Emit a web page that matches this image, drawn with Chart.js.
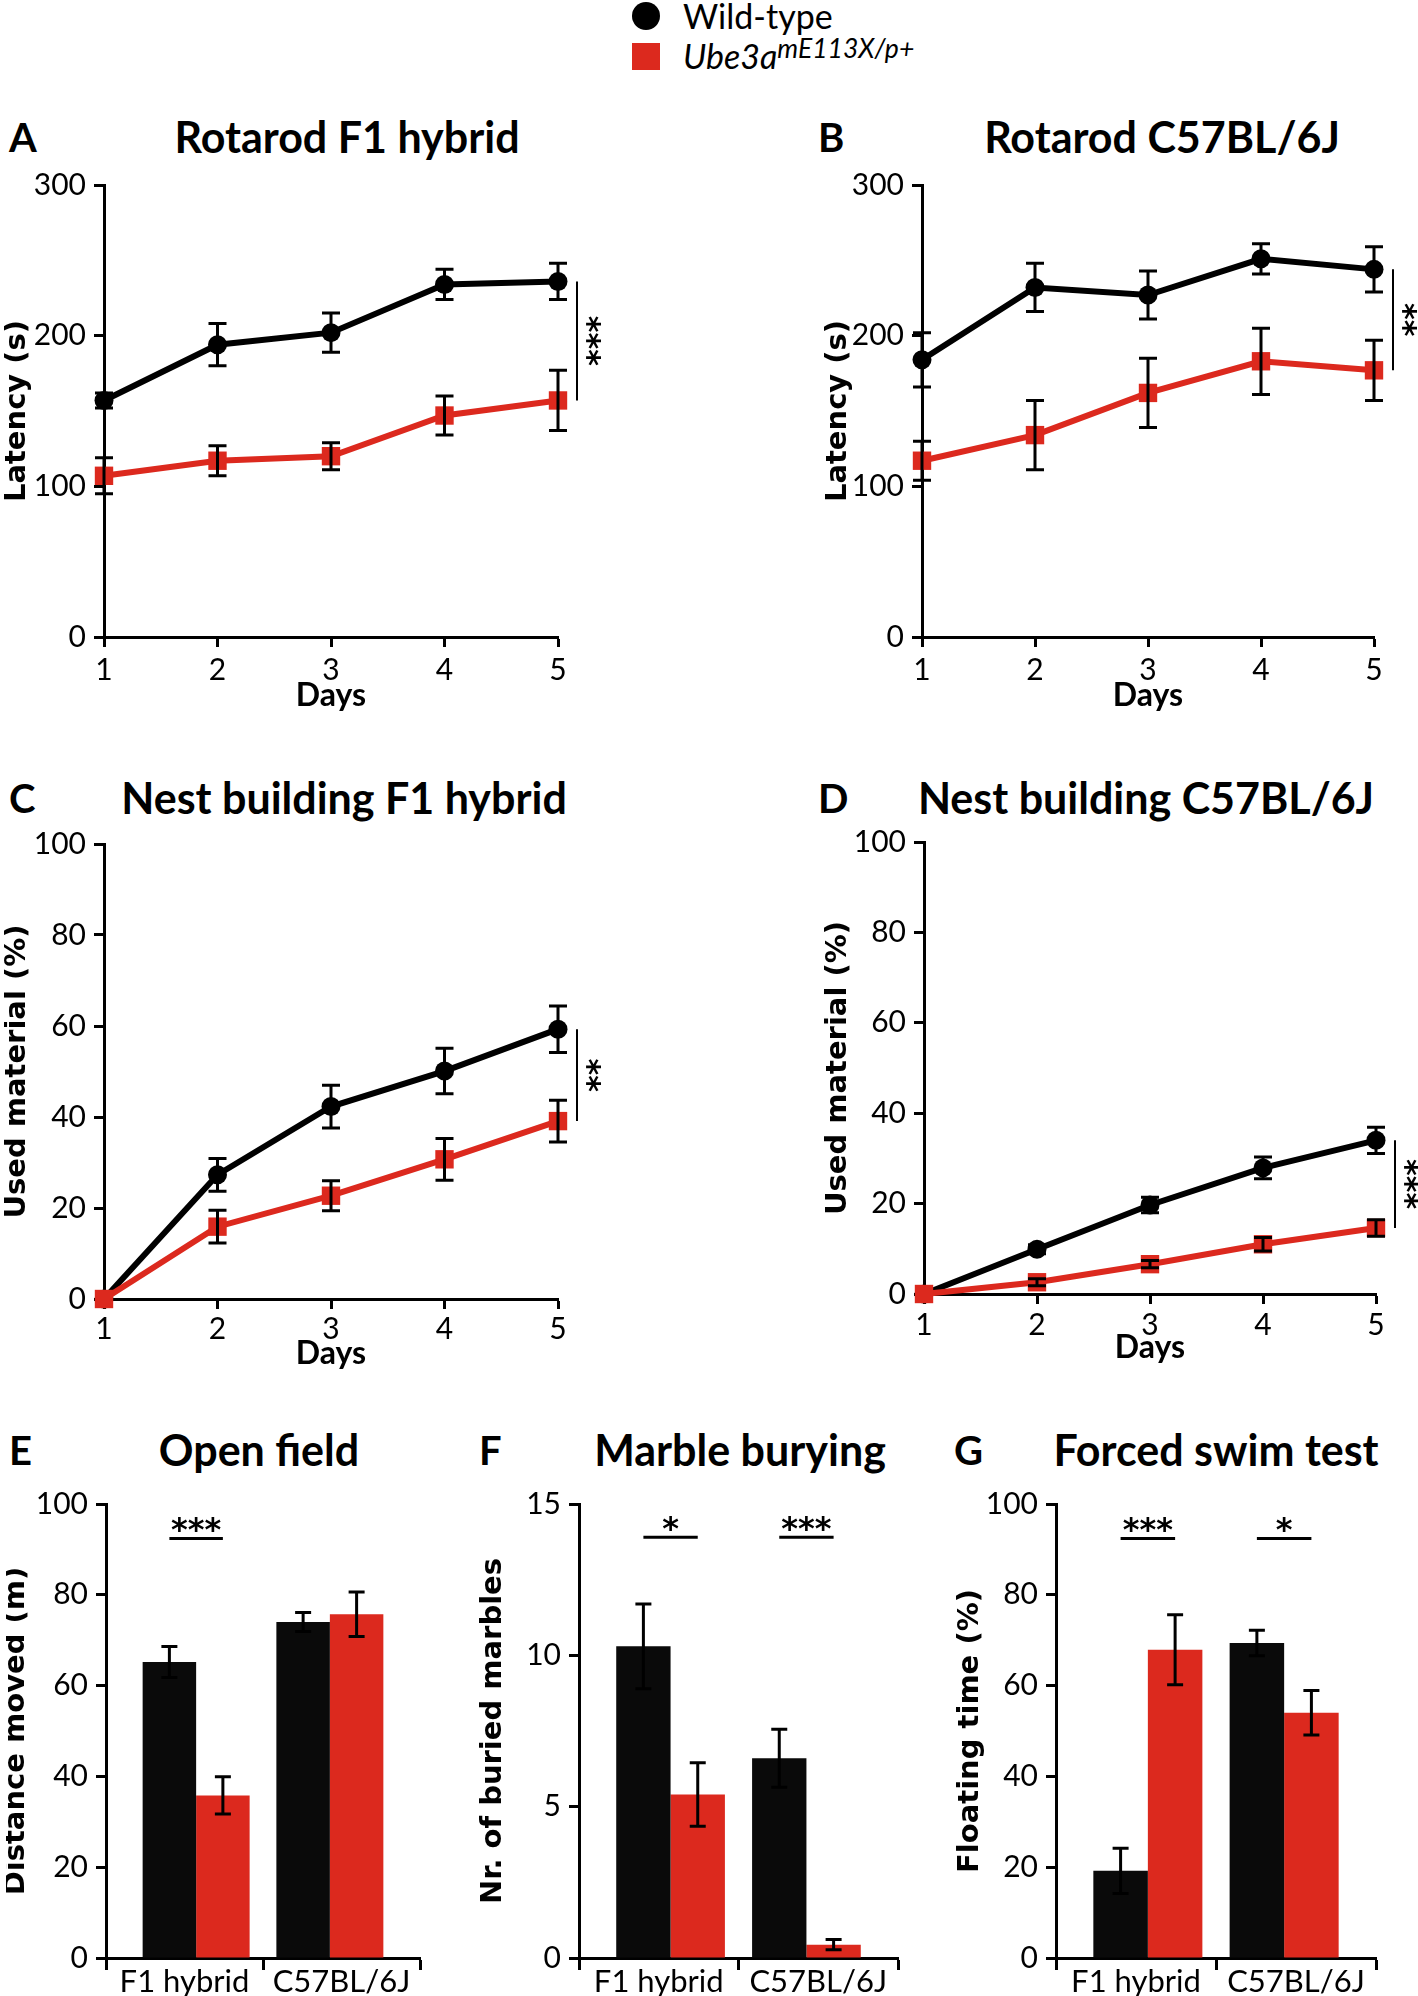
<!DOCTYPE html>
<html>
<head>
<meta charset="utf-8">
<script src="https://cdn.jsdelivr.net/npm/chart.js@4.4.1/dist/chart.umd.min.js"></script>
<style>
  body { margin: 0; background: #fff; }
  #fig { position: relative; width: 1418px; height: 1996px; overflow: hidden; font-family: Lato, sans-serif; color: #000; }
  #fig canvas { position: absolute; }
  .ttl { position: absolute; font-weight: bold; font-size: 43px; line-height: 1; transform: translate(-50%, -50%); white-space: nowrap; }
  .let { position: absolute; font-weight: bold; font-size: 40px; line-height: 1; transform: translateY(-50%); }
  .leg { position: absolute; font-size: 34px; line-height: 1; transform: translateY(-50%); white-space: nowrap; }
  .leg sup { font-size: 26.5px; line-height: 0; vertical-align: 11px; }
</style>
</head>
<body>
<div id="fig">
  <!-- legend -->
  <div style="position:absolute; left:632px; top:2px; width:28px; height:28px; border-radius:50%; background:#000;"></div>
  <div class="leg" style="left:683px; top:16px;">Wild-type</div>
  <div style="position:absolute; left:632px; top:43px; width:28px; height:27px; background:#dc291e;"></div>
  <div class="leg" style="left:683px; top:56px;"><i>Ube3a<sup>mE113X/p+</sup></i></div>

  <!-- panel letters and titles -->
  <div class="let" style="left:9px; top:137px;">A</div>
  <div class="ttl" style="left:347px; top:136px;">Rotarod F1 hybrid</div>
  <div class="let" style="left:818px; top:137px;">B</div>
  <div class="ttl" style="left:1162px; top:136px;">Rotarod C57BL/6J</div>
  <div class="let" style="left:9px; top:798px;">C</div>
  <div class="ttl" style="left:344px; top:797px;">Nest building F1 hybrid</div>
  <div class="let" style="left:818px; top:798px;">D</div>
  <div class="ttl" style="left:1146px; top:797px;">Nest building C57BL/6J</div>
  <div class="let" style="left:9px; top:1450px;">E</div>
  <div class="ttl" style="left:259px; top:1449px;">Open field</div>
  <div class="let" style="left:479px; top:1450px;">F</div>
  <div class="ttl" style="left:740px; top:1449px;">Marble burying</div>
  <div class="let" style="left:954px; top:1450px;">G</div>
  <div class="ttl" style="left:1216px; top:1449px;">Forced swim test</div>

  <canvas id="chartA"></canvas>
  <canvas id="chartB"></canvas>
  <canvas id="chartC"></canvas>
  <canvas id="chartD"></canvas>
  <canvas id="chartE"></canvas>
  <canvas id="chartF"></canvas>
  <canvas id="chartG"></canvas>
</div>

<script>
// ---- data (mean and SEM) ----
var days = ['1', '2', '3', '4', '5'];
var groups = ['F1 hybrid', 'C57BL/6J'];

// A: rotarod F1 hybrid, latency (s)
var rotF1Wt = [157, 194, 202, 234, 236];
var rotF1WtErr = [5, 14, 13, 10, 12];
var rotF1Mut = [107, 117, 120, 147, 157];
var rotF1MutErr = [12, 10, 9, 13, 20];

// B: rotarod C57BL/6J
var rotB6Wt = [184, 232, 227, 251, 244];
var rotB6WtErr = [18, 16, 16, 10, 15];
var rotB6Mut = [117, 134, 162, 183, 177];
var rotB6MutErr = [13, 23, 23, 22, 20];

// C: nest building F1 hybrid, used material (%)
var nestF1Wt = [0, 27.3, 42.3, 50.1, 59.3];
var nestF1WtErr = [0, 3.6, 4.7, 5, 5.1];
var nestF1Mut = [0, 15.9, 22.7, 30.7, 39.1];
var nestF1MutErr = [0, 3.6, 3.3, 4.6, 4.6];

// D: nest building C57BL/6J
var nestB6Wt = [0, 9.9, 19.7, 27.9, 34.0];
var nestB6WtErr = [0, 1, 1.7, 2.4, 2.9];
var nestB6Mut = [0, 2.6, 6.6, 11.0, 14.6];
var nestB6MutErr = [0, 0.8, 0.8, 1.5, 1.8];

// E: open field, distance moved (m)
var openWt = [65.2, 74.0];
var openWtErr = [3.4, 2.1];
var openMut = [35.8, 75.7];
var openMutErr = [4.1, 4.9];

// F: marble burying, nr. of buried marbles
var marbleWt = [10.3, 6.6];
var marbleWtErr = [1.4, 0.96];
var marbleMut = [5.4, 0.44];
var marbleMutErr = [1.05, 0.17];

// G: forced swim test, floating time (%)
var swimWt = [19.2, 69.4];
var swimWtErr = [5, 2.8];
var swimMut = [67.9, 54.0];
var swimMutErr = [7.7, 4.9];

var RED = '#dc291e';
var LEFT_W = 100;
var TOP_PAD = 30;
var YTITLE_SIZE = 29;

function valueOf(d) {
    return (d !== null && typeof d === 'object') ? d.y : d;
}

// draws mean +/- SEM whiskers for every point/bar
var errorBars = {
    id: 'errorBars',
    afterDatasetsDraw: function (chart, args, opts) {
        var ctx = chart.ctx;
        var yScale = chart.scales.y;
        ctx.save();
        ctx.strokeStyle = '#000';
        ctx.lineWidth = opts.width || 3;
        chart.data.datasets.forEach(function (ds, di) {
            var meta = chart.getDatasetMeta(di);
            meta.data.forEach(function (el, i) {
                var e = ds.errors[i];
                if (!e) return;
                var v = valueOf(ds.data[i]);
                var yHi = yScale.getPixelForValue(v + e);
                var yLo = yScale.getPixelForValue(v - e);
                var c = opts.cap || 8;
                ctx.beginPath();
                ctx.moveTo(el.x, yHi); ctx.lineTo(el.x, yLo);
                ctx.moveTo(el.x - c, yHi); ctx.lineTo(el.x + c, yHi);
                ctx.moveTo(el.x - c, yLo); ctx.lineTo(el.x + c, yLo);
                ctx.stroke();
            });
        });
        ctx.restore();
    }
};

// significance lines and stars
var sigMarks = {
    id: 'sigMarks',
    afterDatasetsDraw: function (chart, args, opts) {
        var ctx = chart.ctx;
        var wt = chart.getDatasetMeta(0).data;
        var mut = chart.getDatasetMeta(1).data;
        ctx.save();
        ctx.strokeStyle = '#000';
        ctx.fillStyle = '#000';
        ctx.font = 'bold 32px "DejaVu Sans"';
        ctx.textAlign = 'center';
        ctx.textBaseline = 'alphabetic';
        if (opts.text) {
            // vertical bracket beside the last day
            var i = wt.length - 1;
            var x = wt[i].x + opts.gap;
            ctx.lineWidth = 2;
            ctx.beginPath();
            ctx.moveTo(x, wt[i].y);
            ctx.lineTo(x, mut[i].y);
            ctx.stroke();
            var m = ctx.measureText(opts.text);
            ctx.translate(x + opts.textGap, (wt[i].y + mut[i].y) / 2);
            ctx.rotate(Math.PI / 2);
            ctx.fillText(opts.text, 0, (m.actualBoundingBoxAscent - m.actualBoundingBoxDescent) / 2);
        }
        if (opts.marks) {
            var py = chart.scales.y.getPixelForValue(opts.level);
            ctx.lineWidth = 3;
            opts.marks.forEach(function (txt, j) {
                if (!txt) return;
                var x1 = wt[j].x, x2 = mut[j].x;
                ctx.beginPath();
                ctx.moveTo(x1, py);
                ctx.lineTo(x2, py);
                ctx.stroke();
                var m = ctx.measureText(txt);
                var cy = py - 14;
                ctx.fillText(txt, (x1 + x2) / 2, cy + (m.actualBoundingBoxAscent - m.actualBoundingBoxDescent) / 2);
            });
        }
        ctx.restore();
    }
};

// size and place a canvas so the plot area lands on the given box
function placeCanvas(canvas, box) {
    var right = Math.min(box.right + 55, 1418);
    var left = box.axisX - LEFT_W;
    canvas.width = right - left;
    canvas.height = TOP_PAD + (box.bottom - box.top) + box.xHeight;
    canvas.style.left = left + 'px';
    canvas.style.top = (box.top - TOP_PAD) + 'px';
    return { padRight: right - box.right, left: left };
}

function yAxis(box, pos, yMax, yStep, yTitle) {
    return {
        min: 0,
        max: yMax,
        ticks: { stepSize: yStep, color: '#000', font: { family: 'Lato', size: 30 }, padding: 8 },
        grid: { display: true, drawOnChartArea: false, drawTicks: true, tickLength: 10, tickWidth: 3, tickColor: '#000' },
        border: { display: true, color: '#000', width: 3 },
        title: {
            display: true, text: yTitle, color: '#000',
            font: { family: 'DejaVu Sans', weight: 'bold', size: YTITLE_SIZE, lineHeight: 1 },
            padding: { top: box.titleX - pos.left - YTITLE_SIZE / 2, bottom: 0 }
        },
        afterFit: function (s) { s.width = LEFT_W; }
    };
}

function lineChart(id, box, wt, wtErr, mut, mutErr, yMax, yStep, yTitle, stars) {
    var canvas = document.getElementById(id);
    var pos = placeCanvas(canvas, box);
    return new Chart(canvas, {
        type: 'line',
        data: {
            labels: days,
            datasets: [{
                label: 'Wild-type', data: wt, errors: wtErr,
                borderColor: '#000', backgroundColor: '#000', borderWidth: 6,
                pointStyle: 'circle', pointRadius: 9.5, pointBorderWidth: 0,
                tension: 0, clip: false, order: 1
            }, {
                label: 'Ube3a mE113X/p+', data: mut, errors: mutErr,
                borderColor: RED, backgroundColor: RED, borderWidth: 6,
                pointStyle: 'rect', pointRadius: 13, pointBorderWidth: 0,
                tension: 0, clip: false, order: 0
            }]
        },
        options: {
            responsive: false,
            animation: false,
            devicePixelRatio: 1,
            events: [],
            layout: { padding: { top: TOP_PAD, right: pos.padRight, left: 0, bottom: 0 } },
            scales: {
                x: {
                    type: 'category', offset: false,
                    ticks: { color: '#000', font: { family: 'Lato', size: 30 }, padding: box.tickPad, maxRotation: 0, autoSkip: false },
                    grid: { display: true, offset: false, drawOnChartArea: false, drawTicks: true, tickLength: 10, tickWidth: 3, tickColor: '#000' },
                    border: { display: true, color: '#000', width: 3 },
                    title: { display: true, text: 'Days', color: '#000', font: { family: 'Lato', weight: 'bold', size: 32, lineHeight: 1 }, padding: 0 },
                    afterFit: function (s) { s.height = box.xHeight; }
                },
                y: yAxis(box, pos, yMax, yStep, yTitle)
            },
            plugins: {
                legend: { display: false },
                tooltip: { enabled: false },
                errorBars: { width: 3, cap: 9 },
                sigMarks: { text: stars, gap: 19, textGap: 16 }
            }
        },
        plugins: [errorBars, sigMarks]
    });
}

// bars sit on a hidden linear axis (group index 0 / 1) so the two groups
// can be pulled toward the middle like in the original; the visible
// category axis only carries the group labels and boundary ticks
function barChart(id, box, wt, wtErr, mut, mutErr, yMax, yStep, yTitle, marks, level) {
    var canvas = document.getElementById(id);
    var pos = placeCanvas(canvas, box);
    var toXY = function (v, i) { return { x: i, y: v }; };
    return new Chart(canvas, {
        type: 'bar',
        data: {
            labels: groups,
            datasets: [{
                label: 'Wild-type', data: wt.map(toXY), errors: wtErr, xAxisID: 'xb',
                backgroundColor: '#0a0a0a', borderWidth: 0,
                categoryPercentage: 0.8, barPercentage: 1.0
            }, {
                label: 'Ube3a mE113X/p+', data: mut.map(toXY), errors: mutErr, xAxisID: 'xb',
                backgroundColor: RED, borderWidth: 0,
                categoryPercentage: 0.8, barPercentage: 1.0
            }]
        },
        options: {
            responsive: false,
            animation: false,
            devicePixelRatio: 1,
            events: [],
            layout: { padding: { top: TOP_PAD, right: pos.padRight, left: 0, bottom: 0 } },
            scales: {
                x: {
                    type: 'category', offset: true,
                    ticks: { color: '#000', font: { family: 'Lato', size: 31, lineHeight: 1 }, padding: -4, maxRotation: 0, autoSkip: false },
                    grid: { display: true, offset: true, drawOnChartArea: false, drawTicks: true, tickLength: 12, tickWidth: 3, tickColor: '#000' },
                    border: { display: true, color: '#000', width: 3 },
                    afterFit: function (s) { s.height = box.xHeight; }
                },
                xb: {
                    type: 'linear', display: false, offset: false, min: -0.674, max: 1.674,
                    ticks: { stepSize: 1, includeBounds: false }
                },
                y: yAxis(box, pos, yMax, yStep, yTitle)
            },
            plugins: {
                legend: { display: false },
                tooltip: { enabled: false },
                errorBars: { width: 3, cap: 8 },
                sigMarks: { marks: marks, level: level }
            }
        },
        plugins: [errorBars, sigMarks]
    });
}

function drawFigure() {
    lineChart('chartA', { axisX: 104, right: 558, top: 185, bottom: 637, titleX: 17, xHeight: 75, tickPad: 5 },
        rotF1Wt, rotF1WtErr, rotF1Mut, rotF1MutErr, 300, 100, 'Latency (s)', '***');
    lineChart('chartB', { axisX: 922, right: 1374, top: 185, bottom: 637, titleX: 838, xHeight: 75, tickPad: 5 },
        rotB6Wt, rotB6WtErr, rotB6Mut, rotB6MutErr, 300, 100, 'Latency (s)', '**');
    lineChart('chartC', { axisX: 104, right: 558, top: 844, bottom: 1299, titleX: 17, xHeight: 71, tickPad: 2 },
        nestF1Wt, nestF1WtErr, nestF1Mut, nestF1MutErr, 100, 20, 'Used material (%)', '**');
    lineChart('chartD', { axisX: 924, right: 1376, top: 842, bottom: 1294, titleX: 838, xHeight: 70, tickPad: 3 },
        nestB6Wt, nestB6WtErr, nestB6Mut, nestB6MutErr, 100, 20, 'Used material (%)', '***');

    barChart('chartE', { axisX: 106, right: 420, top: 1504, bottom: 1958, titleX: 16, xHeight: 38 },
        openWt, openWtErr, openMut, openMutErr, 100, 20, 'Distance moved (m)', ['***', null], 92.4);
    barChart('chartF', { axisX: 579, right: 898, top: 1504, bottom: 1958, titleX: 493, xHeight: 38 },
        marbleWt, marbleWtErr, marbleMut, marbleMutErr, 15, 5, 'Nr. of buried marbles', ['*', '***'], 13.9);
    barChart('chartG', { axisX: 1056, right: 1376, top: 1504, bottom: 1958, titleX: 970, xHeight: 38 },
        swimWt, swimWtErr, swimMut, swimMutErr, 100, 20, 'Floating time (%)', ['***', '*'], 92.4);
}

window.onload = drawFigure;
</script>
</body>
</html>
